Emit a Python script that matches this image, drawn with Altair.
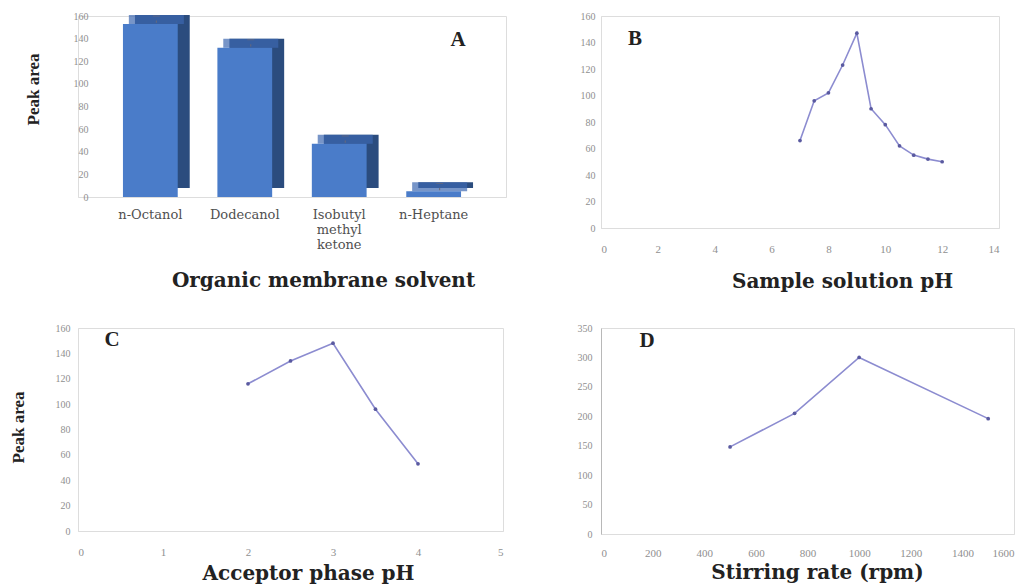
import altair as alt
import pandas as pd

# ---- data ----
solvents = ["n-Octanol", "Dodecanol", "Isobutyl methyl ketone", "n-Heptane"]
solvent_area = [153, 132, 47, 5]
solvent_err = [3, 3, 3, 3]

sample_ph = [7, 7.5, 8, 8.5, 9, 9.5, 10, 10.5, 11, 11.5, 12]
sample_area = [66, 96, 102, 123, 147, 90, 78, 62, 55, 52, 50]

acceptor_ph = [2, 2.5, 3, 3.5, 4]
acceptor_area = [116, 134, 148, 96, 53]

stir_rate = [500, 750, 1000, 1500]
stir_area = [148, 205, 300, 196]

LINE = "#8c8cd0"
PT = "#5a5aa0"
TICKFONT = "Liberation Serif"
TITLEFONT = "DejaVu Serif"
TITLESIZE = 20
LABELGRAY = "#8f8f8f"


def yaxis(values, title=None, tx=None, ty=None, offset=0, pad=6, dom="#dddddd"):
    kw = dict(values=values, ticks=False, grid=False, labelColor=LABELGRAY,
              labelFont=TICKFONT, labelFontSize=10, labelPadding=pad,
              labelOverlap=False, domainColor=dom, offset=offset, format="d")
    if title:
        kw.update(title=title, titleFont="Liberation Serif", titleFontSize=17,
                  titleFontWeight="bold", titleColor="#222222",
                  titleX=tx, titleY=ty, titleAngle=-90)
    else:
        kw.update(title=None)
    return alt.Axis(**kw)


def xaxis(values, title, tx, ty, pad=14):
    return alt.Axis(values=values, ticks=False, grid=False, labelColor=LABELGRAY,
                    labelFont=TICKFONT, labelFontSize=11, labelPadding=pad,
                    labelOverlap=False, domainColor="#dddddd", format="d", title=title,
                    titleFont=TITLEFONT, titleFontSize=TITLESIZE, titleFontWeight="bold",
                    titleColor="#222222", titleX=tx, titleY=ty, titleAlign="center",
                    titleBaseline="middle")


def letter(ch, px, py):
    return alt.Chart(pd.DataFrame({"t": [ch]})).mark_text(
        font="Liberation Serif", fontSize=21, fontWeight="bold", color="#222222",
        align="center", baseline="middle"
    ).encode(text="t:N", x=alt.value(px), y=alt.value(py))


# ---- panel A ----
dfA = pd.DataFrame({"solvent": solvents, "area": solvent_area, "err": solvent_err})
dfA["lo"] = dfA["area"] - dfA["err"]
dfA["hi"] = dfA["area"] + dfA["err"]
scaleA = alt.Scale(domain=[0, 160])
xscaleA = alt.Scale(paddingInner=0.42, paddingOuter=0.476)
xaxisA = alt.Axis(ticks=False, grid=False, labelAngle=0, labelColor="#505050",
                  labelFont="DejaVu Serif", labelFontSize=13, labelPadding=11,
                  labelLineHeight=15, domainColor="#dddddd",
                  labelExpr="datum.label == 'Isobutyl methyl ketone' ? ['Isobutyl','methyl','ketone'] : datum.label",
                  title="Organic membrane solvent", titleFont=TITLEFONT,
                  titleFontSize=TITLESIZE, titleFontWeight="bold", titleColor="#222222",
                  titleX=245, titleY=83, titleAlign="center", titleBaseline="middle")
yaxisA = yaxis(list(range(0, 161, 20)), "Peak area", -49, 73, offset=-13, pad=3,
               dom="transparent")
xA = alt.X("solvent:N", sort=solvents, scale=xscaleA, axis=xaxisA)
baseA = alt.Chart(dfA).encode(x=xA, y=alt.Y("area:Q", scale=scaleA, axis=yaxisA))
backA = baseA.mark_bar(color="#2b4c7e", xOffset=12, yOffset=-9)
topA = baseA.mark_tick(color="#3d68b0", thickness=9, size=55, xOffset=6, yOffset=-4.5)
frontA = baseA.mark_bar(color="#4a7cc9")
errA = alt.Chart(dfA).mark_rule(color="#6a6a7a", strokeWidth=1, xOffset=6, yOffset=-4.5).encode(
    x=xA, y=alt.Y("lo:Q", scale=scaleA, axis=yaxisA, title="Peak area"), y2="hi:Q")
capA = alt.Chart(dfA).mark_tick(color="#6a6a7a", thickness=1, size=7, xOffset=6, yOffset=-4.5).encode(
    x=xA, y=alt.Y("hi:Q", scale=scaleA, axis=yaxisA, title="Peak area"))
panelA = alt.layer(backA, topA, frontA, errA, capA, letter("A", 380, 24)).properties(
    width=428, height=181)

# ---- panel B ----
dfB = pd.DataFrame({"ph": sample_ph, "area": sample_area})
baseB = alt.Chart(dfB).encode(
    x=alt.X("ph:Q", scale=alt.Scale(domain=[0, 14]),
            axis=xaxis(list(range(0, 15, 2)), "Sample solution pH", 241, 53, 15)),
    y=alt.Y("area:Q", scale=alt.Scale(domain=[0, 160]),
            axis=yaxis(list(range(0, 161, 20)))))
panelB = alt.layer(
    baseB.mark_line(color=LINE, strokeWidth=1.6),
    baseB.mark_point(filled=True, color=PT, size=14, opacity=1),
    letter("B", 34, 23),
).properties(width=398, height=212)

# ---- panel C ----
dfC = pd.DataFrame({"ph": acceptor_ph, "area": acceptor_area})
baseC = alt.Chart(dfC).encode(
    x=alt.X("ph:Q", scale=alt.Scale(domain=[0, 5]),
            axis=xaxis(list(range(0, 6)), "Acceptor phase pH", 230, 42, 15)),
    y=alt.Y("area:Q", scale=alt.Scale(domain=[0, 160]),
            axis=yaxis(list(range(0, 161, 20)), "Peak area", -51, 99, pad=8)))
panelC = alt.layer(
    baseC.mark_line(color=LINE, strokeWidth=1.6),
    baseC.mark_point(filled=True, color=PT, size=14, opacity=1),
    letter("C", 34, 12),
).properties(width=425, height=203)

# ---- panel D ----
dfD = pd.DataFrame({"rate": stir_rate, "area": stir_area})
baseD = alt.Chart(dfD).encode(
    x=alt.X("rate:Q", scale=alt.Scale(domain=[0, 1600]),
            axis=xaxis(list(range(0, 1601, 200)), "Stirring rate (rpm)", 216, 38, 13)),
    y=alt.Y("area:Q", scale=alt.Scale(domain=[0, 350]),
            axis=yaxis(list(range(0, 351, 50)), pad=9, dom="#b8b8b8")))
panelD = alt.layer(
    baseD.mark_line(color=LINE, strokeWidth=1.6),
    baseD.mark_point(filled=True, color=PT, size=14, opacity=1),
    letter("D", 46, 13),
).properties(width=413, height=206)

chart = alt.concat(
    panelA, panelB, panelC, panelD, columns=2,
    spacing={"row": 100, "column": 95}, bounds="flush"
).properties(
    padding={"left": 0, "top": 2, "right": 0, "bottom": 0}
).configure_view(strokeWidth=0).configure(background="white")

chart.save("out.html", embed_options={"renderer": "svg", "actions": False})
